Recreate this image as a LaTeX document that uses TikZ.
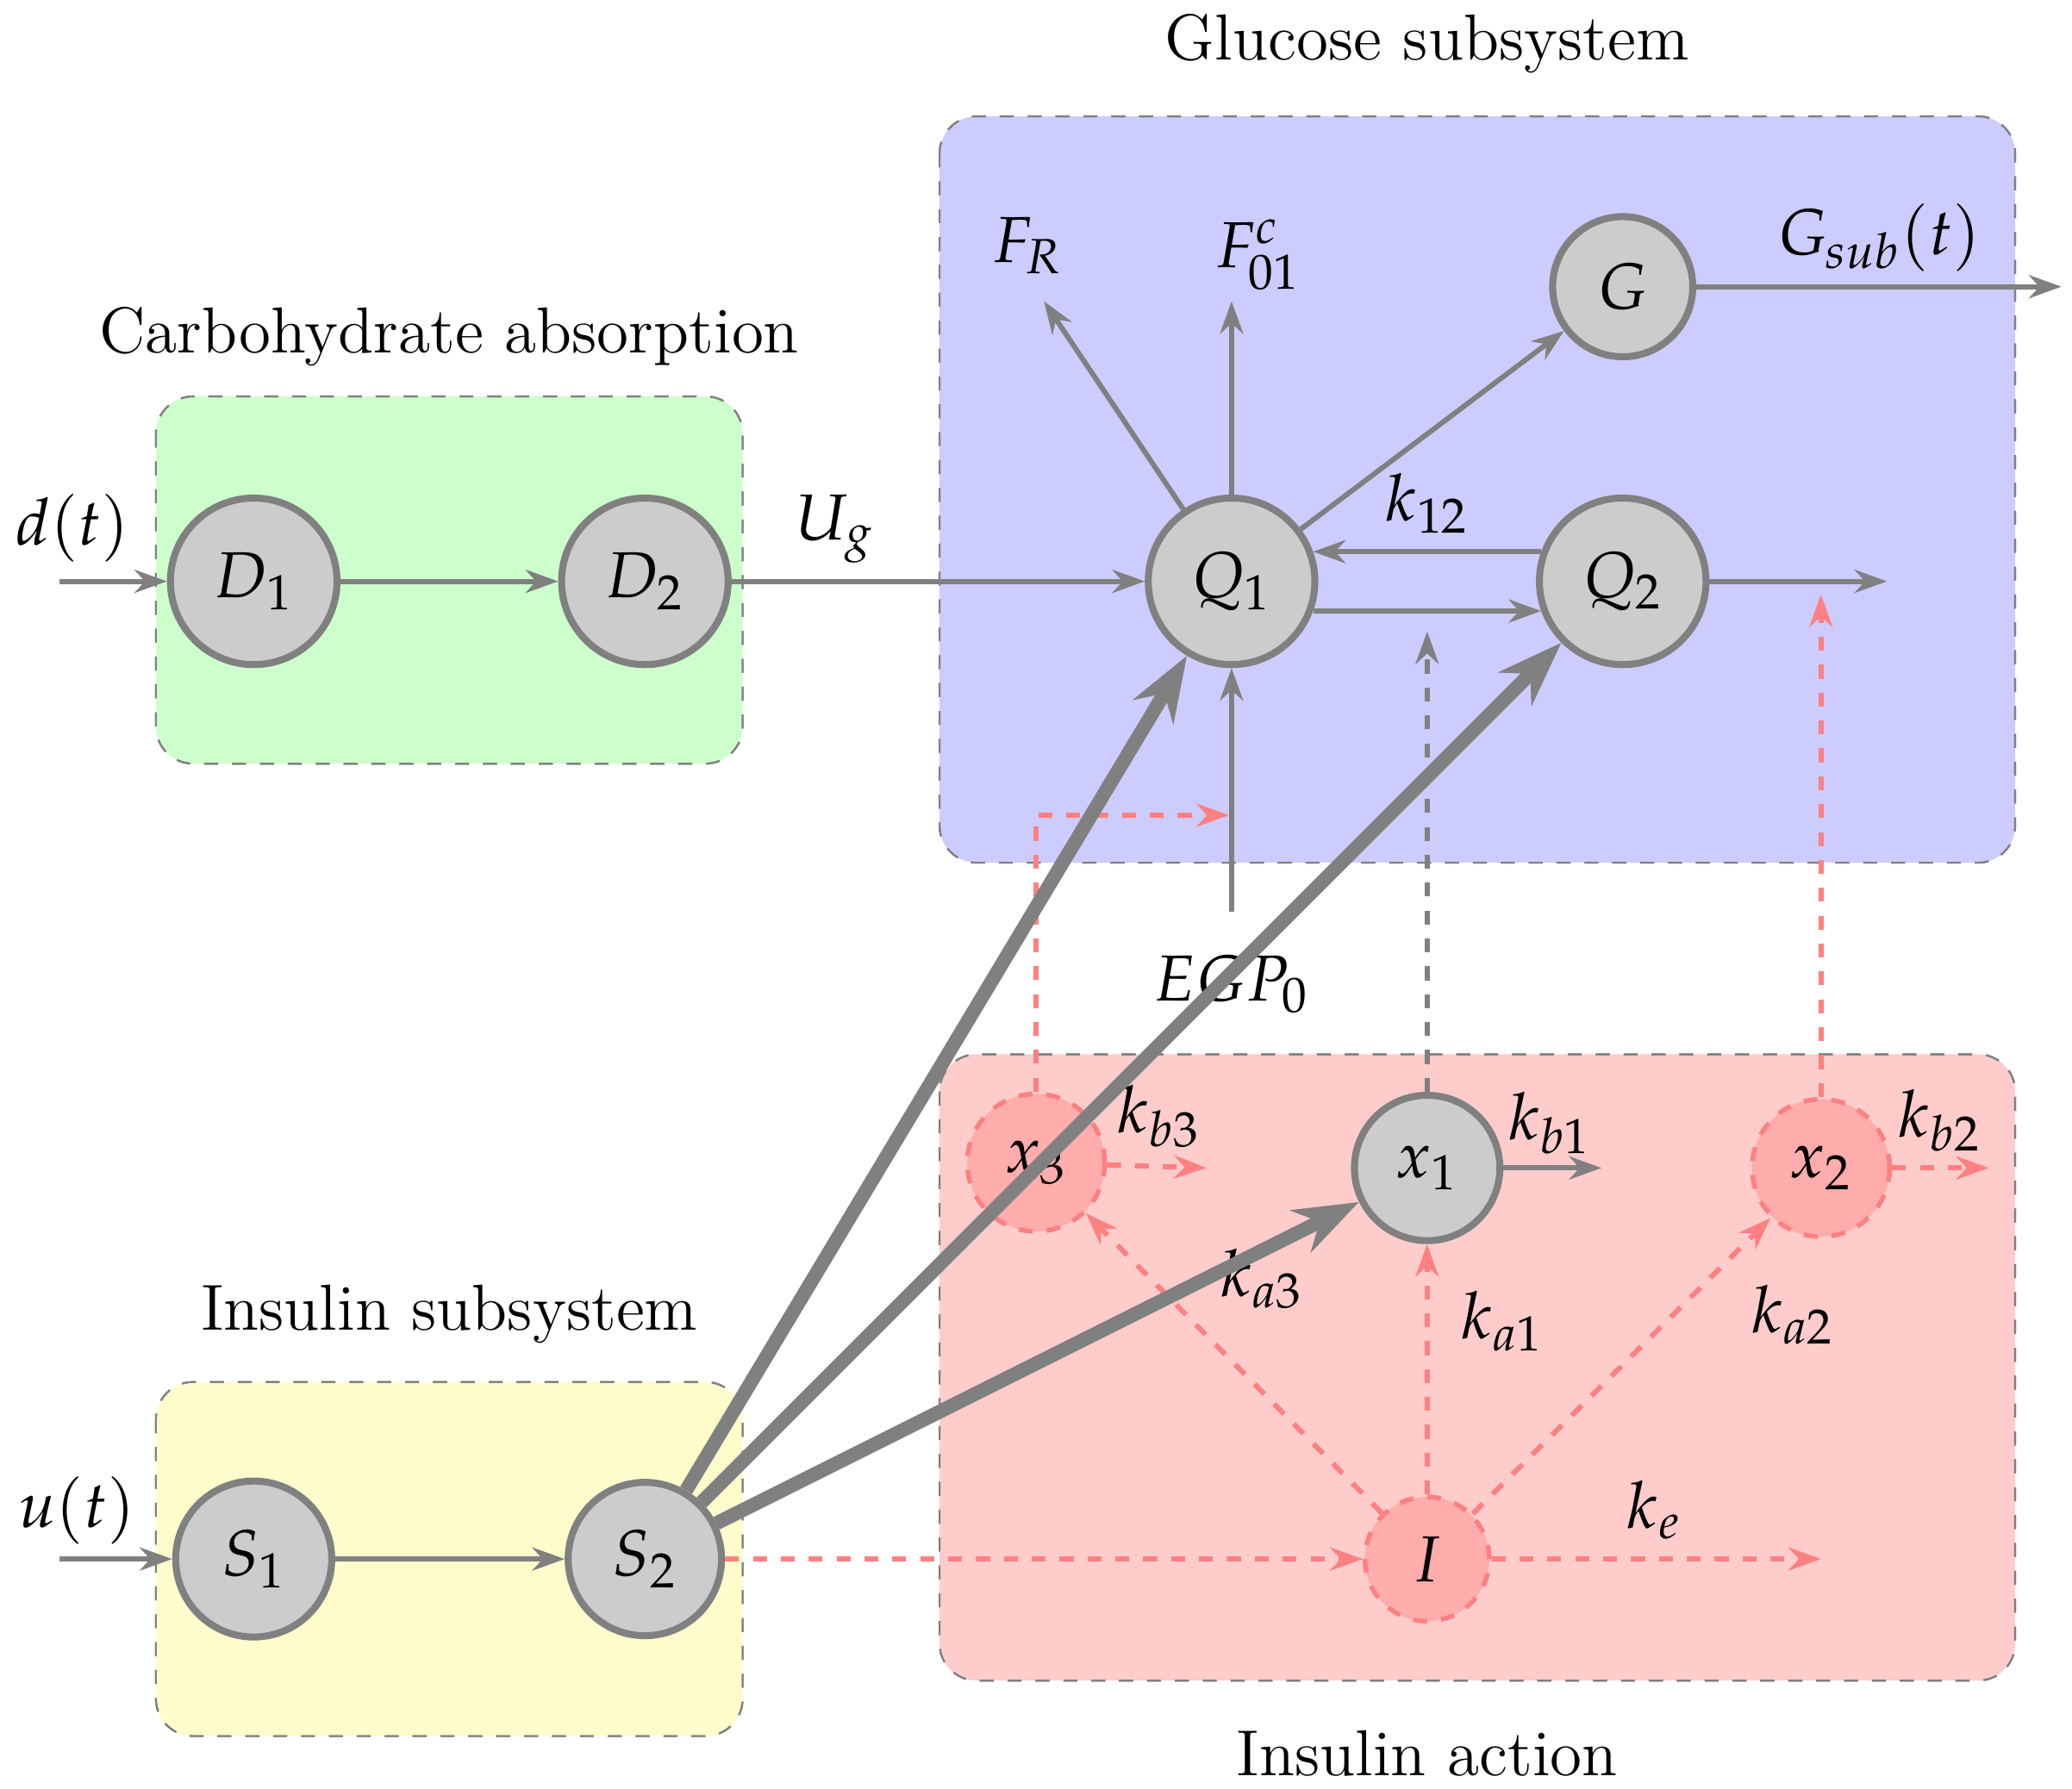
\documentclass[tikz,border=0pt]{standalone}
\usepackage{mathpazo}
\usetikzlibrary{arrows.meta}
\definecolor{gr}{HTML}{808080}
\definecolor{pk}{HTML}{FF8080}
\begin{document}
\begin{tikzpicture}[x=0.01cm,y=-0.01cm,font=\fontsize{14}{17}\selectfont,
 box/.style={draw=gr,dashed,thin,rounded corners=8pt},
 nd/.style={circle,draw=gr,fill=black!20,line width=1.5pt,inner sep=0pt},
 pn/.style={circle,draw=pk,fill=pk!65,line width=1pt,dashed,inner sep=0pt},
 ar/.style={draw=gr,line width=1.1pt,-{Stealth[length=7pt,width=5pt]}},
 pa/.style={draw=pk,line width=1.1pt,dashed,-{Stealth[length=7pt,width=5pt]}},
 th/.style={draw=gr,line width=3pt,-{Stealth[length=14pt,width=10pt]}}]
\useasboundingbox (0,0) rectangle (1568,1354);
\fill[box,fill=green!20] (118,300) rectangle (562,578);
\fill[box,fill=blue!20] (711,88) rectangle (1525,653);
\fill[box,fill=red!20] (711,798) rectangle (1525,1272);
\fill[box,fill=yellow!20] (118,1046) rectangle (562,1314);
\draw[box] (118,300) rectangle (562,578) (711,88) rectangle (1525,653)
 (711,798) rectangle (1525,1272) (118,1046) rectangle (562,1314);
\node (t1) at (340,255) {Carbohydrate absorption};
\node (t2) at (1080,33) {Glucose subsystem};
\node (t3) at (1080,1327) {Insulin action};
\node (t4) at (340,995) {Insulin subsystem};
\node[nd,minimum size=1.26cm] (D1) at (192,440) {$D_1$};
\node[nd,minimum size=1.26cm] (D2) at (488,440) {$D_2$};
\node[nd,minimum size=1.26cm] (Q1) at (932,440) {$Q_1$};
\node[nd,minimum size=1.26cm] (Q2) at (1228,440) {$Q_2$};
\node[nd,minimum size=1.06cm] (G) at (1228,217) {$G$};
\node[nd,minimum size=1.18cm] (S1) at (192,1180) {$S_1$};
\node[nd,minimum size=1.16cm] (S2) at (488,1180) {$S_2$};
\node[nd,minimum size=1.1cm] (x1) at (1080,884) {$x_1$};
\node[pn,minimum size=1.04cm] (x3) at (784,880) {$x_3$};
\node[pn,minimum size=1.04cm] (x2) at (1378,884) {$x_2$};
\node[pn,minimum size=0.94cm] (I) at (1080,1180) {$I$};
\coordinate (din) at (45,440); \coordinate (uin) at (45,1180);
\node (dt) at (55,400) {$d(t)$};
\node (ut) at (58,1143) {$u(t)$};
\draw[ar] (din) -- (D1);
\draw[ar] (uin) -- (S1);
\draw[ar] (D1) -- (D2);
\draw[ar] (S1) -- (S2);
\draw[ar] (D2) -- node[above,pos=0.25]{$U_g$} (Q1);
\coordinate (fr) at (790,228); \coordinate (f0) at (932,228);
\node (FR) at (778,186) {$F_R$};
\node (F0) at (952,193) {$F_{01}^c$};
\draw[ar] (Q1) -- (fr);
\draw[ar] (Q1) -- (f0);
\draw[ar] (Q1) -- (G);
\draw[ar] (Q2.160) -- node[above]{$k_{12}$} (Q1.20);
\draw[ar] (Q1.-20) -- (Q2.-160);
\coordinate (q2o) at (1428,440); \draw[ar] (Q2) -- (q2o);
\coordinate (go) at (1560,217); \draw[ar] (G) -- (go);
\node (Gs) at (1422,180) {$G_{sub}(t)$};
\node (EGP) at (932,745) {$EGP_0$};
\coordinate (eg) at (932,690); \draw[ar] (eg) -- (Q1);
\coordinate (c3) at (784,617); \coordinate (c3e) at (930,617);
\draw[pa] (x3) -- (c3) -- (c3e);
\coordinate (c1) at (1080,478); \draw[ar,dashed] (x1) -- (c1);
\coordinate (c2) at (1378,450); \draw[pa] (x2) -- (c2);
\coordinate (o3) at (913,884); \coordinate (o1) at (1212,884); \coordinate (o2) at (1505,884);
\draw[pa] (x3) -- (o3); \node (kb3) at (877,845) {$k_{b3}$};
\draw[ar] (x1) -- (o1); \node (kb1) at (1173,850) {$k_{b1}$};
\draw[pa] (x2) -- (o2); \node (kb2) at (1468,848) {$k_{b2}$};
\draw[pa] (I) -- (x3); \node (ka3) at (955,968) {$k_{a3}$};
\draw[pa] (I) -- (x1); \node (ka1) at (1137,1000) {$k_{a1}$};
\draw[pa] (I) -- (x2); \node (ka2) at (1357,995) {$k_{a2}$};
\coordinate (io) at (1378,1180); \draw[pa] (I) -- (io);
\node (ke) at (1252,1143) {$k_e$};
\draw[pa] (S2) -- (I);
\draw[th] (S2) -- (Q1);
\draw[th] (S2) -- (Q2);
\draw[th] (S2) -- (x1);
\end{tikzpicture}
\end{document}
